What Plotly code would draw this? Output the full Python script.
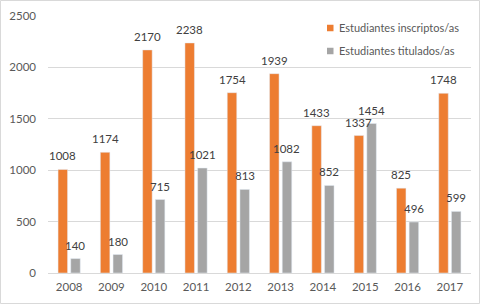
import plotly.graph_objects as go

years = ["2008", "2009", "2010", "2011", "2012", "2013", "2014", "2015", "2016", "2017"]
inscriptos = [1008, 1174, 2170, 2238, 1754, 1939, 1433, 1337, 825, 1748]
titulados = [140, 180, 715, 1021, 813, 1082, 852, 1454, 496, 599]
tick_vals = [0, 500, 1000, 1500, 2000, 2500]
series_names = ["Estudiantes inscriptos/as", "Estudiantes titulados/as"]

ORANGE = "#ED7D31"
GREY = "#A5A5A5"
FONT = "Lato"
TXT = "#595959"
LBL = "#404040"

L, R, T, B = 48, 9, 16, 31
W, H = 480, 304
pw = W - L - R
ph = H - T - B
BARGAP, GROUPGAP = 0.4, 0.25
cat_w = pw / len(years)
slot = (1 - BARGAP) * cat_w / 2
off = slot / 2

fig = go.Figure()
fig.add_trace(go.Bar(x=years, y=inscriptos, name=series_names[0],
                     marker_color=ORANGE, showlegend=False, hoverinfo="skip"))
fig.add_trace(go.Bar(x=years, y=titulados, name=series_names[1],
                     marker_color=GREY, showlegend=False, hoverinfo="skip"))

annotations = []
for vals, sign in ((inscriptos, -1), (titulados, 1)):
    for i, v in enumerate(vals):
        # category axis: numeric position = category index
        annotations.append(dict(
            x=i, y=v, xref="x", yref="y", text=str(v), showarrow=False,
            xanchor="center", yanchor="bottom", xshift=sign * off, yshift=5,
            font=dict(family=FONT, size=11.5, color=LBL)))

# legend (drawn manually to match the compact Excel legend)
shapes = []
leg_x_sym = 327
leg_x_txt = 337
leg_ys = [28, 51]
for name, col, yc in zip(series_names, [ORANGE, GREY], leg_ys):
    shapes.append(dict(type="rect", xref="paper", yref="paper",
                       x0=(leg_x_sym - L) / pw, x1=(leg_x_sym + 6.5 - L) / pw,
                       y0=(H - B - yc - 3.25) / ph, y1=(H - B - yc + 3.25) / ph,
                       fillcolor=col, line=dict(width=0)))
    annotations.append(dict(x=(leg_x_txt - L) / pw, y=(H - B - yc) / ph,
                            xref="paper", yref="paper", text=name, showarrow=False,
                            xanchor="left", yanchor="middle",
                            font=dict(family=FONT, size=11, color=TXT)))

shapes.append(dict(type="rect", xref="paper", yref="paper",
                   x0=-(L - 0.5) / pw, x1=1 + (R - 0.5) / pw,
                   y0=-(B - 0.5) / ph, y1=1 + (T - 0.5) / ph,
                   line=dict(color="#D9D9D9", width=1), fillcolor="rgba(0,0,0,0)"))

fig.update_layout(
    width=W, height=H,
    margin=dict(l=L, r=R, t=T, b=B, autoexpand=False),
    paper_bgcolor="white", plot_bgcolor="white",
    barmode="group", bargap=BARGAP, bargroupgap=GROUPGAP,
    font=dict(family=FONT, size=11, color=TXT),
    showlegend=False,
    xaxis=dict(type="category", categoryorder="array", categoryarray=years,
               range=[-0.5, len(years) - 0.5],
               showgrid=False, showline=True, linecolor="#D9D9D9", linewidth=1,
               ticks="", tickfont=dict(size=11.5, color=TXT), ticklabelstandoff=3),
    yaxis=dict(range=[0, 2500], tickvals=tick_vals, showgrid=True, gridcolor="#D9D9D9",
               gridwidth=1, zeroline=False, showline=False, ticks="",
               tickfont=dict(size=11.5, color=TXT), ticklabelstandoff=11),
    shapes=shapes,
    annotations=annotations,
)

fig.write_html("out.html", config={"displayModeBar": False},
               post_script="document.body.style.margin='0';")
